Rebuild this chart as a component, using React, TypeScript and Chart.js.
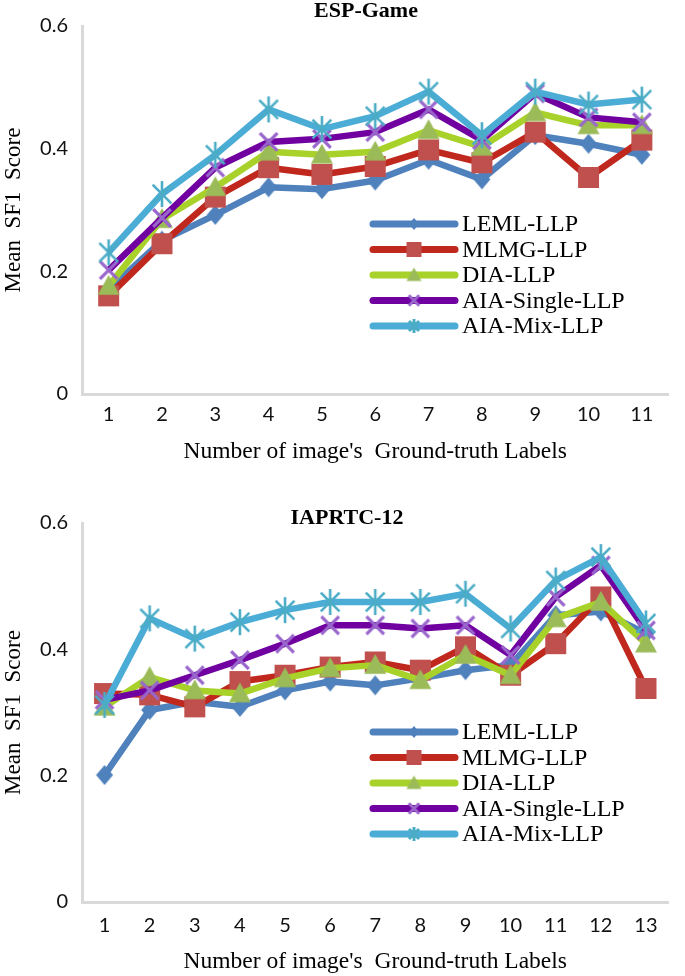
import React, { useEffect, useRef } from 'react';
import { Chart, registerables } from 'chart.js';

Chart.register(...registerables);

// ---------- data ----------
const seriesNames = ['LEML-LLP', 'MLMG-LLP', 'DIA-LLP', 'AIA-Single-LLP', 'AIA-Mix-LLP'];

const espLabels = ['1', '2', '3', '4', '5', '6', '7', '8', '9', '10', '11'];
const espLEML = [0.17, 0.25, 0.292, 0.337, 0.334, 0.348, 0.382, 0.35, 0.422, 0.408, 0.39];
const espMLMG = [0.16, 0.245, 0.321, 0.369, 0.358, 0.371, 0.398, 0.377, 0.427, 0.353, 0.414];
const espDIA = [0.176, 0.285, 0.337, 0.395, 0.39, 0.395, 0.43, 0.403, 0.459, 0.438, 0.438];
const espAIASingle = [0.202, 0.287, 0.369, 0.411, 0.416, 0.427, 0.464, 0.414, 0.49, 0.451, 0.443];
const espAIAMix = [0.231, 0.326, 0.39, 0.464, 0.432, 0.453, 0.493, 0.422, 0.493, 0.472, 0.48];

const iaprLabels = ['1', '2', '3', '4', '5', '6', '7', '8', '9', '10', '11', '12', '13'];
const iaprLEML = [0.201, 0.304, 0.317, 0.309, 0.335, 0.349, 0.343, 0.354, 0.367, 0.375, 0.454, 0.46, 0.425];
const iaprMLMG = [0.33, 0.328, 0.309, 0.349, 0.359, 0.372, 0.38, 0.367, 0.404, 0.359, 0.409, 0.483, 0.338];
const iaprDIA = [0.309, 0.356, 0.335, 0.33, 0.354, 0.37, 0.375, 0.351, 0.391, 0.359, 0.449, 0.475, 0.409];
const iaprAIASingle = [0.32, 0.335, 0.359, 0.383, 0.409, 0.438, 0.438, 0.433, 0.438, 0.391, 0.483, 0.533, 0.43];
const iaprAIAMix = [0.312, 0.449, 0.417, 0.443, 0.462, 0.475, 0.475, 0.475, 0.488, 0.433, 0.509, 0.546, 0.441];

const yTicksMin = 0;
const yTicksMax = 0.6;
const yTicksStep = 0.2;

const espTitle = 'ESP-Game';
const iaprTitle = 'IAPRTC-12';
const xAxisTitle = "Number of image's  Ground-truth Labels";
const yAxisTitle = 'Mean  SF1  Score';

// ---------- styles ----------
const lineColors = ['#4F81BD', '#C0281E', '#A8D22A', '#7000A0', '#4BACD6'];
const markerColors = ['#4F81BD', '#C0504D', '#9BBB59', '#9966CC', '#4BACC6'];
const markerKinds = ['diamond', 'square', 'triangle', 'x', 'star'];
const markerSizes = [20, 21, 22, 22, 26];
const legendMarkerSizes = [12, 15, 15, 13, 14];

function makeMarker(kind: string, size: number, color: string, lw: number) {
  const pad = 3;
  const dim = Math.ceil(size + pad * 2);
  const c = document.createElement('canvas');
  c.width = dim;
  c.height = dim;
  const ctx = c.getContext('2d')!;
  const cx = dim / 2;
  const cy = dim / 2;
  const r = size / 2;
  ctx.fillStyle = color;
  ctx.strokeStyle = color;
  ctx.lineWidth = lw;
  ctx.beginPath();
  if (kind === 'diamond') {
    ctx.moveTo(cx, cy - r);
    ctx.lineTo(cx + r * 0.85, cy);
    ctx.lineTo(cx, cy + r);
    ctx.lineTo(cx - r * 0.85, cy);
    ctx.closePath();
    ctx.fill();
  } else if (kind === 'square') {
    ctx.rect(cx - r, cy - r, size, size);
    ctx.fill();
  } else if (kind === 'triangle') {
    ctx.moveTo(cx, cy - r);
    ctx.lineTo(cx + r, cy + r * 0.8);
    ctx.lineTo(cx - r, cy + r * 0.8);
    ctx.closePath();
    ctx.fill();
  } else if (kind === 'x') {
    const a = r * 0.8;
    ctx.moveTo(cx - a, cy - a);
    ctx.lineTo(cx + a, cy + a);
    ctx.moveTo(cx + a, cy - a);
    ctx.lineTo(cx - a, cy + a);
    ctx.stroke();
  } else {
    const a = r * 0.72;
    ctx.moveTo(cx - a, cy - a);
    ctx.lineTo(cx + a, cy + a);
    ctx.moveTo(cx + a, cy - a);
    ctx.lineTo(cx - a, cy + a);
    ctx.moveTo(cx, cy - r);
    ctx.lineTo(cx, cy + r);
    ctx.stroke();
  }
  return c;
}

const titlePlugin = {
  id: 'boxTitle',
  afterDraw(chart: any, _args: any, opts: any) {
    const ctx = chart.ctx;
    ctx.save();
    ctx.font = 'bold 22px "Liberation Serif"';
    ctx.textAlign = 'center';
    ctx.textBaseline = 'middle';
    ctx.fillStyle = '#000';
    ctx.fillText(opts.text, opts.x, opts.y);
    ctx.restore();
  },
};

const legendPlugin = {
  id: 'boxLegend',
  afterDraw(chart: any, _args: any, opts: any) {
    const ctx = chart.ctx;
    const ds = chart.data.datasets;
    ctx.save();
    ds.forEach((d: any, i: number) => {
      const y = opts.y + i * opts.spacing;
      ctx.beginPath();
      ctx.lineCap = 'round';
      ctx.lineWidth = 7;
      ctx.strokeStyle = d.borderColor;
      ctx.moveTo(opts.x, y);
      ctx.lineTo(opts.x + opts.len, y);
      ctx.stroke();
      const img = opts.markers[i];
      ctx.drawImage(img, opts.x + opts.len / 2 - img.width / 2, y - img.height / 2);
      ctx.font = '24px "Liberation Serif"';
      ctx.textAlign = 'left';
      ctx.textBaseline = 'middle';
      ctx.fillStyle = '#000';
      ctx.fillText(d.label, opts.x + opts.len + 7, y + 1);
    });
    ctx.restore();
  },
};

type Cfg = {
  top: number;
  width: number;
  height: number;
  labels: string[];
  series: number[][];
  title: string;
  titleX: number;
  titleY: number;
  padTop: number;
  padRight: number;
  plotBottom: number;
  tickPad: number;
  xTitlePad: number;
  legendY: number;
};

function LineChart({ cfg }: { cfg: Cfg }) {
  const ref = useRef<HTMLCanvasElement>(null);
  useEffect(() => {
    const plotMarkers = markerKinds.map((k, i) => makeMarker(k, markerSizes[i], markerColors[i], k === 'x' ? 3.2 : 2.6));
    const legendMarkers = markerKinds.map((k, i) => makeMarker(k, legendMarkerSizes[i], markerColors[i], 3));
    const xHeight = cfg.height - cfg.plotBottom;
    const chart = new Chart(ref.current!, {
      type: 'line',
      data: {
        labels: cfg.labels,
        datasets: cfg.series.map((vals, i) => ({
          label: seriesNames[i],
          data: vals,
          borderColor: lineColors[i],
          backgroundColor: lineColors[i],
          borderWidth: 6.5,
          borderJoinStyle: 'round',
          pointStyle: plotMarkers[i],
          pointRadius: 10,
          pointHoverRadius: 10,
          tension: 0,
          fill: false,
          order: 5 - i,
        })),
      },
      options: {
        animation: false,
        responsive: false,
        events: [],
        layout: { padding: { top: cfg.padTop, right: cfg.padRight, bottom: 0, left: 0 } },
        plugins: {
          legend: { display: false },
          tooltip: { enabled: false },
          boxTitle: { text: cfg.title, x: cfg.titleX, y: cfg.titleY },
          boxLegend: { x: 373, y: cfg.legendY, spacing: 25.5, len: 82, markers: legendMarkers },
        } as any,
        scales: {
          x: {
            type: 'category',
            offset: true,
            grid: { display: false, drawTicks: false },
            border: { display: true, color: '#D9D9D9', width: 3 },
            ticks: { font: { family: 'Lato', size: 20 }, color: '#111', padding: cfg.tickPad, maxRotation: 0, autoSkip: false },
            title: {
              display: true,
              text: xAxisTitle,
              font: { family: 'Liberation Serif', size: 23.5 },
              color: '#000',
              padding: { top: 0, bottom: cfg.xTitlePad },
            },
            afterFit: (s: any) => {
              s.height = xHeight;
            },
          },
          y: {
            min: yTicksMin,
            max: yTicksMax,
            ticks: { stepSize: yTicksStep, font: { family: 'Lato', size: 20 }, color: '#111', padding: 14 },
            grid: { display: false, drawTicks: false },
            border: { display: true, color: '#D9D9D9', width: 3 },
            title: {
              display: true,
              text: yAxisTitle,
              font: { family: 'Liberation Serif', size: 23 },
              color: '#000',
              padding: { top: 0, bottom: 0 },
            },
            afterFit: (s: any) => {
              s.width = 82;
            },
          },
        },
      } as any,
      plugins: [titlePlugin, legendPlugin],
    } as any);
    return () => chart.destroy();
  }, []);
  return (
    <canvas
      ref={ref}
      width={cfg.width}
      height={cfg.height}
      style={{ position: 'absolute', left: 0, top: cfg.top, display: 'block' }}
    />
  );
}

const espCfg: Cfg = {
  top: 0,
  width: 685,
  height: 480,
  labels: espLabels,
  series: [espLEML, espMLMG, espDIA, espAIASingle, espAIAMix],
  title: espTitle,
  titleX: 366,
  titleY: 11,
  padTop: 16,
  padRight: 4,
  plotBottom: 394,
  tickPad: 9,
  xTitlePad: 14,
  legendY: 224,
};

const iaprCfg: Cfg = {
  top: 490,
  width: 685,
  height: 486,
  labels: iaprLabels,
  series: [iaprLEML, iaprMLMG, iaprDIA, iaprAIASingle, iaprAIAMix],
  title: iaprTitle,
  titleX: 347,
  titleY: 28,
  padTop: 33,
  padRight: 8,
  plotBottom: 412,
  tickPad: 12,
  xTitlePad: 0,
  legendY: 242,
};

export default function App() {
  return (
    <div
      style={{
        position: 'absolute',
        left: 0,
        top: 0,
        width: 685,
        height: 976,
        overflow: 'hidden',
        background: '#fff',
      }}
    >
      <LineChart cfg={espCfg} />
      <LineChart cfg={iaprCfg} />
    </div>
  );
}
